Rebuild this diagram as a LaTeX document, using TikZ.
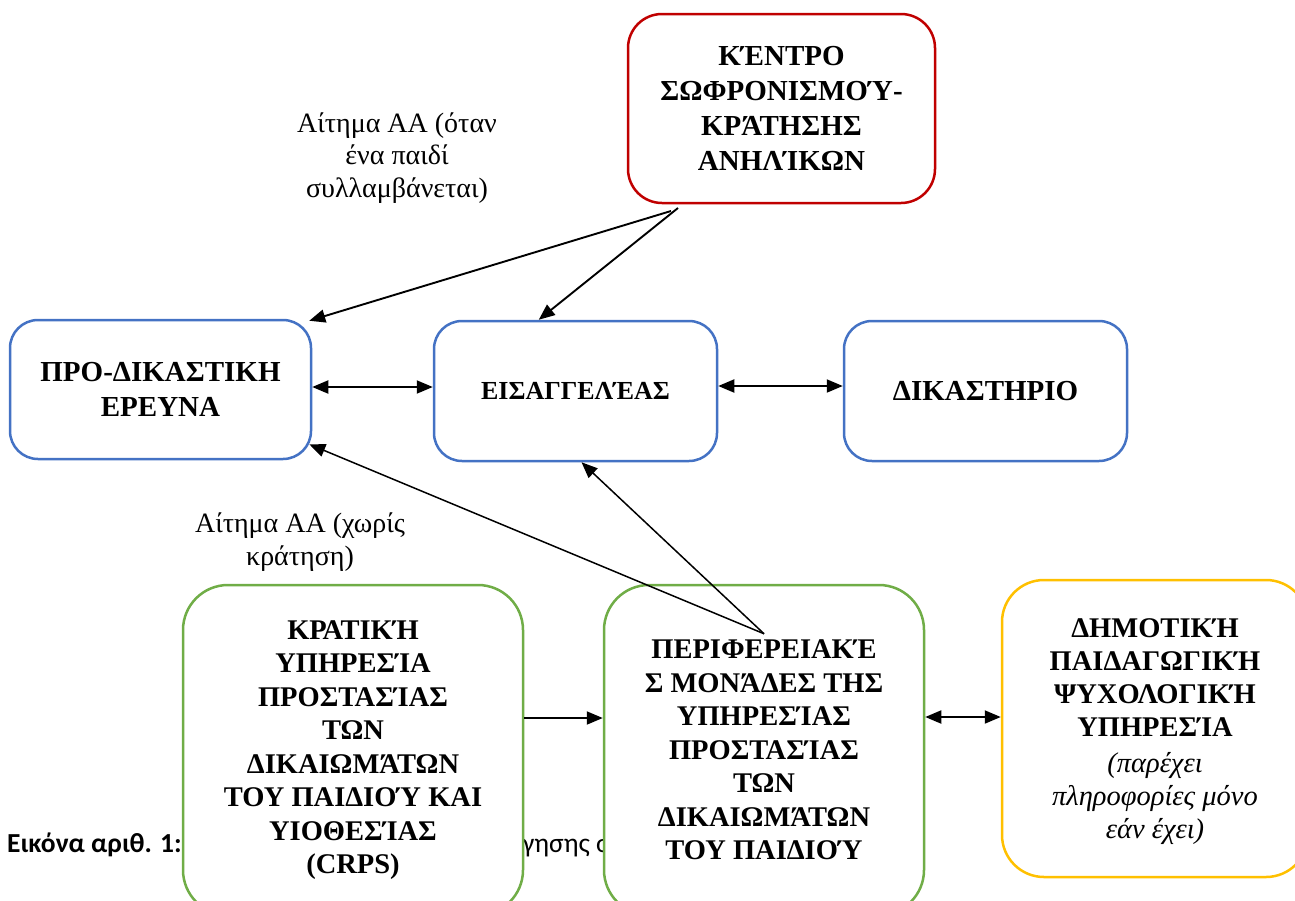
\documentclass[tikz,border=0pt]{standalone}
\usepackage{fontspec}
\setmainfont{Liberation Serif}
\newfontfamily\capfont{Carlito}
\usetikzlibrary{arrows.meta}
\definecolor{bxred}{HTML}{C00000}
\definecolor{bxblue}{HTML}{4472C4}
\definecolor{bxgreen}{HTML}{70AD47}
\definecolor{bxyellow}{HTML}{FFC000}
\tikzset{
  box/.style={draw, line width=2.5pt, fill=white, align=center, inner sep=0pt,
    font=\bfseries\fontsize{29}{35}\selectfont},
  redbox/.style={box, draw=bxred, rounded corners=34pt},
  bluebox/.style={box, draw=bxblue, rounded corners=28pt},
  greenbox/.style={box, draw=bxgreen, rounded corners=45pt, font=\bfseries\fontsize{28.5}{33.5}\selectfont},
  yellowbox/.style={box, draw=bxyellow, rounded corners=42pt, font=\bfseries\fontsize{28.5}{33.3}\selectfont},
  lbl/.style={align=center, inner sep=0pt, font=\fontsize{28}{32.5}\selectfont},
  captxt/.style={inner sep=0pt, font=\capfont\fontsize{27.5}{32}\selectfont},
  conn/.style={line width=1.9pt, -{Triangle[length=16pt,width=13pt]}},
  conn2/.style={line width=1.9pt, {Triangle[length=16pt,width=13pt]}-{Triangle[length=16pt,width=13pt]}},
}
\begin{document}
\begin{tikzpicture}[x=1pt,y=-1pt]
\useasboundingbox (0,0) rectangle (1295,900);
\clip (0,0) rectangle (1295,900);
% caption fragments (partly hidden by boxes)
\node[captxt, anchor=base west] (cap1) at (7,852) {\textbf{Εικόνα αριθ. 1:}};
\node[captxt, anchor=base west] (cap2) at (522,852) {γησης σ};
% boxes
\node[redbox, minimum width=307pt, minimum height=189pt] (ken) at (781.5,108.5)
  {ΚΈΝΤΡΟ\\ΣΩΦΡΟΝΙΣΜΟΎ-\\ΚΡΆΤΗΣΗΣ\\ΑΝΗΛΊΚΩΝ};
\node[bluebox, minimum width=301pt, minimum height=139pt] (pro) at (160.5,389.5)
  {ΠΡΟ-ΔΙΚΑΣΤΙΚΗ\\ΕΡΕΥΝΑ};
\node[bluebox, minimum width=283pt, minimum height=140pt, font=\bfseries\fontsize{26}{32}\selectfont] (eis) at (575.5,391)
  {ΕΙΣΑΓΓΕΛΈΑΣ};
\node[bluebox, minimum width=283pt, minimum height=140pt] (dik) at (985.5,391)
  {ΔΙΚΑΣΤΗΡΙΟ};
\node[greenbox, minimum width=340pt, minimum height=330pt] (crps) at (353,750)
  {ΚΡΑΤΙΚΉ\\ΥΠΗΡΕΣΊΑ\\ΠΡΟΣΤΑΣΊΑΣ\\ΤΩΝ\\ΔΙΚΑΙΩΜΆΤΩΝ\\ΤΟΥ ΠΑΙΔΙΟΎ ΚΑΙ\\ΥΙΟΘΕΣΊΑΣ\\(CRPS)};
\node[greenbox, minimum width=320pt, minimum height=330pt] (per) at (764,750)
  {ΠΕΡΙΦΕΡΕΙΑΚΈ\\Σ ΜΟΝΆΔΕΣ ΤΗΣ\\ΥΠΗΡΕΣΊΑΣ\\ΠΡΟΣΤΑΣΊΑΣ\\ΤΩΝ\\ΔΙΚΑΙΩΜΆΤΩΝ\\ΤΟΥ ΠΑΙΔΙΟΎ};
\node[yellowbox, minimum width=306pt, minimum height=297pt, text depth=-8pt] (dhm) at (1155,728.5)
  {ΔΗΜΟΤΙΚΉ\\ΠΑΙΔΑΓΩΓΙΚΉ\\ΨΥΧΟΛΟΓΙΚΉ\\ΥΠΗΡΕΣΊΑ\\[2pt]{\mdseries\itshape (παρέχει}\\{\mdseries\itshape πληροφορίες μόνο}\\{\mdseries\itshape εάν έχει)}};
% labels
\node[lbl] (lab1) at (397,158) {Αίτημα ΑΑ (όταν\\ένα παιδί\\συλλαμβάνεται)};
\node[lbl] (lab2) at (300,542) {Αίτημα ΑΑ (χωρίς\\κράτηση)};
% connectors
\coordinate (k1) at (671,211);
\coordinate (k2) at (678,208);
\coordinate (p1) at ([yshift=-50pt]per.north);
\draw[conn] (k1) -- ([xshift=-3pt,yshift=-2pt]pro.north east);
\draw[conn] (k2) -- ([xshift=106pt]eis.north west);
\draw[conn2] ([yshift=2.5pt]pro.east) -- ([yshift=2.5pt]pro.east -| eis.west);
\draw[conn2] ([yshift=5pt]eis.east) -- ([yshift=5pt]eis.east -| dik.west);
\draw[conn, line width=1.5pt] (p1) -- ([xshift=-3pt,yshift=16pt]pro.south east);
\draw[conn, line width=1.5pt] (p1) -- ([xshift=6pt]eis.south);
\draw[conn] ([yshift=32pt]crps.east) -- ([yshift=32pt]crps.east -| per.west);
\draw[conn2] ([yshift=33pt]per.east) -- ([yshift=33pt]per.east -| dhm.west);
\end{tikzpicture}
\end{document}
